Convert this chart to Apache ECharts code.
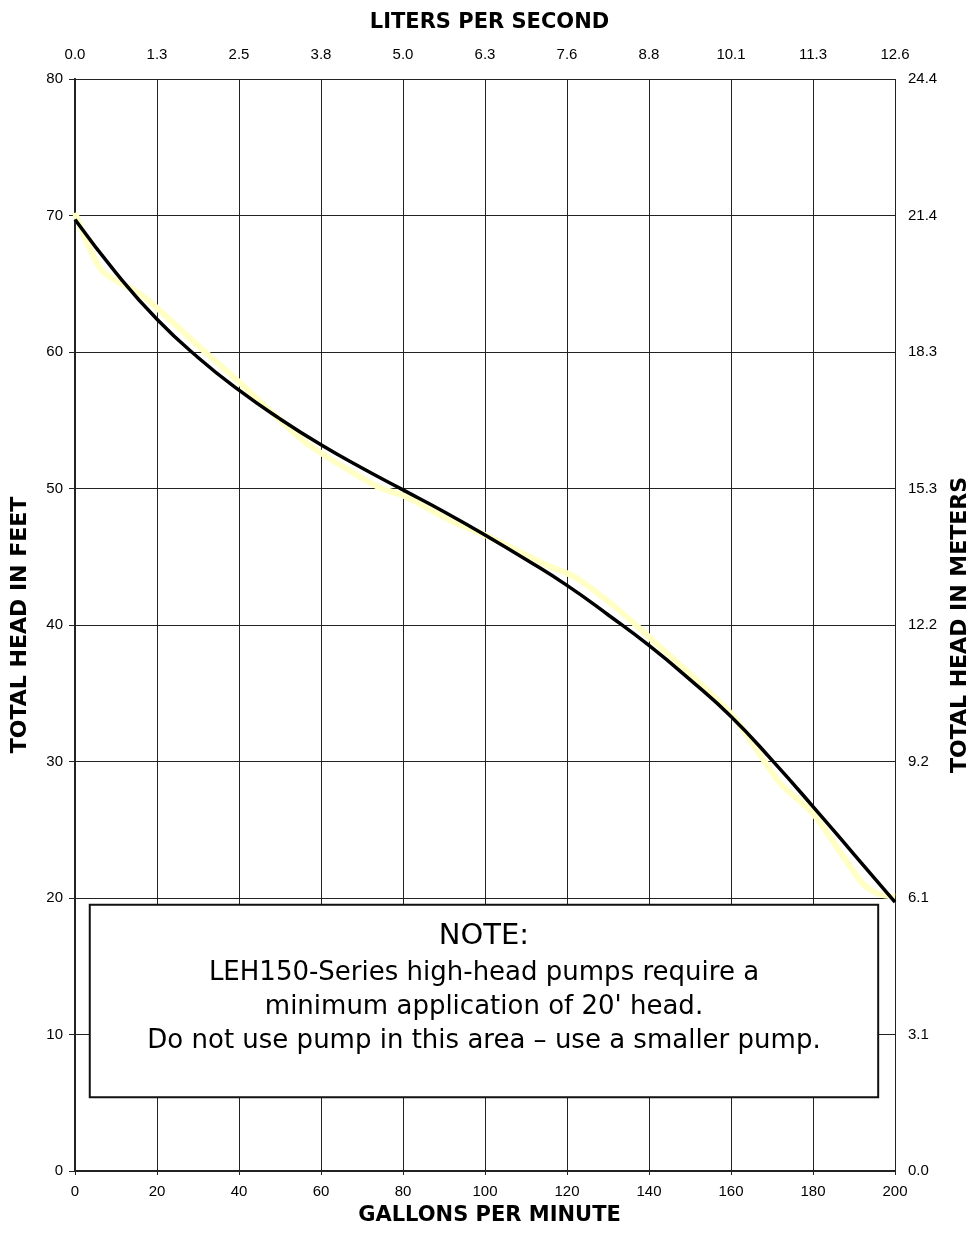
<!DOCTYPE html>
<html>
<head>
<meta charset="utf-8">
<script src="https://cdn.jsdelivr.net/npm/echarts@6/dist/echarts.min.js"></script>
<style>html,body{margin:0;padding:0;background:#fff;overflow:hidden}#c{width:979px;height:1243px}</style>
</head>
<body>
<div id="c"></div>
<script>
// Flow (GPM) and head (feet) for the pump curve
const gpm = [0,10,20,30,40,50,60,70,80,90,100,110,120,130,140,150,160,170,180,190,200];
const headFt = [69.7,65.8,62.4,59.6,57.2,55.1,53.2,51.5,49.9,48.3,46.6,44.8,42.9,40.75,38.5,36.0,33.3,30.1,26.7,23.2,19.7];
// Underlying pale trace (original hand-drawn curve)
const traceGpm = [0,6.5,16.6,31,40,54.5,60,74,80,92,100,115,122,131,139,160,172,180,192,196,200];
const traceFt  = [70.2,66,64.1,60.2,57.8,53.8,52.6,50.1,49.5,47.6,46.6,44.4,43.5,41.5,39.4,33.5,28.4,26.2,21.1,20.3,20.1];
// Secondary tick labels
const lpsLabels = ['0.0','1.3','2.5','3.8','5.0','6.3','7.6','8.8','10.1','11.3','12.6'];
const meterLabels = ['0.0','3.1','6.1','9.2','12.2','15.3','18.3','21.4','24.4'];
// Note box extent (gpm, ft)
const noteBox = [[3.6,19.5],[195.9,5.4]];
const noteTitle = 'NOTE:';
const noteLines = ['LEH150-Series high-head pumps require a','minimum application of 20\' head.','Do not use pump in this area \u2013 use a smaller pump.'];

const font = 'Liberation Sans, Arial, sans-serif';
const wide = 'DejaVu Sans, sans-serif';
const chart = echarts.init(document.getElementById('c'));
const axisLab = {color:'#000', fontFamily:font, fontSize:15};
const nameStyle = {fontFamily:wide,fontSize:22,fontWeight:'bold',color:'#000'};
chart.setOption({
  animation:false,
  backgroundColor:'#fff',
  grid:{left:75,right:79,top:79,bottom:72,containLabel:false},
  title:[
    {text:'LITERS PER SECOND',left:'center',top:7,textStyle:{fontFamily:wide,fontSize:21,fontWeight:'bold',color:'#000'}},
    {text:'GALLONS PER MINUTE',left:'center',top:1200,textStyle:{fontFamily:wide,fontSize:21,fontWeight:'bold',color:'#000'}}
  ],
  xAxis:[
    {type:'value',position:'bottom',min:0,max:200,interval:20,
     axisLine:{show:true,lineStyle:{color:'#222',width:2}},
     axisTick:{show:true,length:4,lineStyle:{color:'#222'}},
     axisLabel:Object.assign({margin:13},axisLab),
     splitLine:{show:true,lineStyle:{color:'#222',width:1}}},
    {type:'value',position:'top',min:0,max:200,interval:20,
     axisLine:{show:true,lineStyle:{color:'#222',width:2}},
     axisTick:{show:false},
     axisLabel:Object.assign({margin:17,formatter:v=>lpsLabels[Math.round(v/20)]},axisLab),
     splitLine:{show:false}}
  ],
  yAxis:[
    {type:'value',position:'left',min:0,max:80,interval:10,
     name:'TOTAL HEAD IN FEET',nameLocation:'middle',nameGap:44,nameRotate:90,
     nameTextStyle:nameStyle,
     axisLine:{show:true,lineStyle:{color:'#222',width:2}},
     axisTick:{show:true,length:6,lineStyle:{color:'#222'}},
     axisLabel:Object.assign({margin:12},axisLab),
     splitLine:{show:true,lineStyle:{color:'#222',width:1}}},
    {type:'value',position:'right',min:0,max:80,interval:10,
     name:'TOTAL HEAD IN METERS',nameLocation:'middle',nameGap:54,nameRotate:90,
     nameTextStyle:nameStyle,
     axisLine:{show:true,lineStyle:{color:'#222',width:2}},
     axisTick:{show:true,length:6,lineStyle:{color:'#222'}},
     axisLabel:Object.assign({margin:13,formatter:v=>meterLabels[Math.round(v/10)]},axisLab),
     splitLine:{show:false}}
  ],
  series:[
    {type:'line',data:traceGpm.map((x,i)=>[x,traceFt[i]]),smooth:0.25,symbol:'none',
     lineStyle:{color:'#ffffc6',width:6},z:2,silent:true},
    {type:'line',data:gpm.map((x,i)=>[x,headFt[i]]),smooth:true,symbol:'none',
     lineStyle:{color:'#000',width:3.5},z:3,silent:true,
     markArea:{silent:true,
       itemStyle:{color:'#fff',borderColor:'#111',borderWidth:2,opacity:1},
       label:{show:true,position:'insideTop',distance:14,color:'#000',fontFamily:wide,
         align:'center',
         formatter:'{n|'+noteTitle+'}\n'+noteLines.map(s=>'{t|'+s+'}').join('\n'),
         rich:{n:{fontSize:29,lineHeight:38,fontFamily:wide,color:'#000',align:'center'},
               t:{fontSize:26,lineHeight:34,fontFamily:wide,color:'#000',align:'center'}}},
       data:[[{coord:noteBox[0]},{coord:noteBox[1]}]]}}
  ]
});
</script>
</body>
</html>
